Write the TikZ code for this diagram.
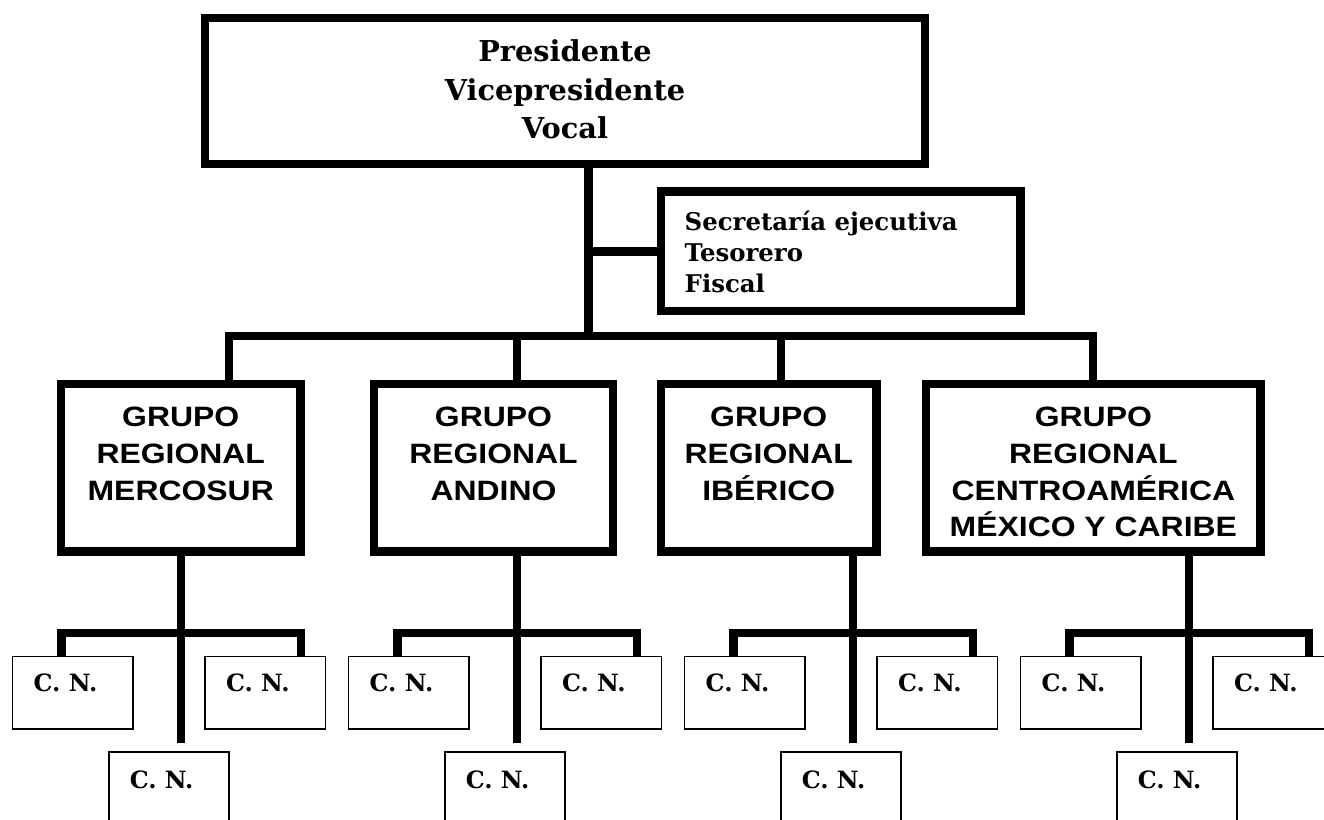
\documentclass[tikz,border=0pt]{standalone}
\usepackage{fontspec}
\newfontfamily\serifb{DejaVu Serif}
\newfontfamily\grpfont[FakeStretch=1.14]{Liberation Sans}
\begin{document}
\begin{tikzpicture}[x=1pt,y=-1pt,
  heavy/.style={line width=8.5pt},
  bigbox/.style={draw, line width=8.5pt, inner sep=0pt, rectangle},
  cnbox/.style={draw, line width=1.8pt, inner sep=0pt, rectangle, minimum width=120.7pt},
  toptext/.style={font=\serifb\bfseries\fontsize{28.8}{38.3}\selectfont, align=center, inner sep=0pt, anchor=base},
  sectext/.style={font=\serifb\bfseries\fontsize{24.4}{31.3}\selectfont, align=left, inner sep=0pt, anchor=base west},
  grptext/.style={font=\grpfont\bfseries\fontsize{28}{36.7}\selectfont, align=center, inner sep=0pt, anchor=base},
  cntext/.style={font=\serifb\bfseries\fontsize{23.8}{26}\selectfont, inner sep=0pt, anchor=base west}
]
\useasboundingbox (0,0) rectangle (1324,819);
\clip (0,0) rectangle (1324,819);

% top box
\node[bigbox, minimum width=720pt, minimum height=146pt] (top) at (565,91) {};
\node[toptext] (toplbl) at (565,138.3) {Presidente\\Vicepresidente\\Vocal};

% secretaria box
\node[bigbox, minimum width=359.5pt, minimum height=119.3pt] (sec) at (840.75,251.35) {};
\node[sectext] (seclbl) at (684.5,292.7) {Secretaría ejecutiva\\Tesorero\\Fiscal};

% grupo boxes
\node[bigbox, minimum width=239.5pt, minimum height=167.5pt] (g1) at (180.75,467.75) {};
\node[bigbox, minimum width=239pt, minimum height=167.5pt] (g2) at (493.5,467.75) {};
\node[bigbox, minimum width=215.5pt, minimum height=167.5pt] (g3) at (768.75,467.75) {};
\node[bigbox, minimum width=334.7pt, minimum height=167.5pt] (g4) at (1093.35,467.75) {};
\node[grptext] (g1lbl) at (180.75,500.1) {GRUPO\\REGIONAL\\MERCOSUR};
\node[grptext] (g2lbl) at (493.5,500.1) {GRUPO\\REGIONAL\\ANDINO};
\node[grptext] (g3lbl) at (768.75,500.1) {GRUPO\\REGIONAL\\IBÉRICO};
\node[grptext] (g4lbl) at (1093.35,536.8) {GRUPO\\REGIONAL\\CENTROAMÉRICA\\MÉXICO Y CARIBE};

% trunk and branch bar
\coordinate (tr) at (588.5,336);
\coordinate (d1) at (229,336);
\coordinate (d2) at (517,336);
\coordinate (d3) at (781,336);
\coordinate (d4) at (1093,336);
\draw[heavy] (top.south -| tr) -- (tr);
\draw[heavy] (sec.west -| tr) -- (sec.west);
\draw[heavy] (d1 |- g1.north) -- (d1) -- (d4) -- (d4 |- g4.north);
\draw[heavy] (d2) -- (d2 |- g2.north);
\draw[heavy] (d3) -- (d3 |- g3.north);

% C. N. groups
\foreach \T/\i in {181/1,517/2,853/3,1189/4}{
  \node[cnbox, minimum height=72.5pt] (cna\i) at (\T-108.15,692.75) {};
  \node[cnbox, minimum height=72.5pt] (cnb\i) at (\T+84.15,692.75) {};
  \node[cnbox, minimum height=77.7pt] (cnc\i) at (\T-12.05,791.15) {};
  \node[cntext] (cnat\i) at (\T-147.5,691.7) {C. N.};
  \node[cntext] (cnbt\i) at (\T+44.8,691.7) {C. N.};
  \node[cntext] (cnct\i) at (\T-51.4,788) {C. N.};
  \coordinate (t\i) at (\T,743);
  \coordinate (sl\i) at (\T-119.4,633);
  \coordinate (sr\i) at (\T+119.8,633);
  \draw[heavy] (g\i.south -| t\i) -- (t\i);
  \draw[heavy] (sl\i |- cna\i.north) -- (sl\i) -- (sr\i) -- (sr\i |- cnb\i.north);
}
\end{tikzpicture}
\end{document}
